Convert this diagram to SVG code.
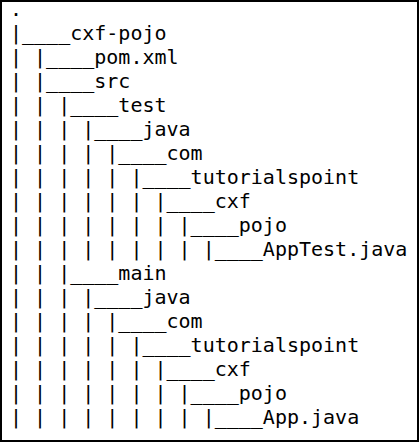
<svg xmlns="http://www.w3.org/2000/svg" width="419" height="442" viewBox="0 0 419 442" xml:space="preserve">
<style>
text { font-family: "DejaVu Sans Mono", "Liberation Mono", monospace; font-size: 20px; fill: #000; white-space: pre; }
</style>
<rect x="0" y="0" width="419" height="442" fill="#fff"/>
<rect x="1" y="1" width="417" height="440" fill="none" stroke="#000" stroke-width="2"/>
<g id="tree">
<text x="10" y="16">.</text>
<text x="10" y="40">|____cxf-pojo</text>
<text x="10" y="64">| |____pom.xml</text>
<text x="10" y="88">| |____src</text>
<text x="10" y="112">| | |____test</text>
<text x="10" y="136">| | | |____java</text>
<text x="10" y="160">| | | | |____com</text>
<text x="10" y="184">| | | | | |____tutorialspoint</text>
<text x="10" y="208">| | | | | | |____cxf</text>
<text x="10" y="232">| | | | | | | |____pojo</text>
<text x="10" y="256">| | | | | | | | |____AppTest.java</text>
<text x="10" y="280">| | |____main</text>
<text x="10" y="304">| | | |____java</text>
<text x="10" y="328">| | | | |____com</text>
<text x="10" y="352">| | | | | |____tutorialspoint</text>
<text x="10" y="376">| | | | | | |____cxf</text>
<text x="10" y="400">| | | | | | | |____pojo</text>
<text x="10" y="424">| | | | | | | | |____App.java</text>
</g>
</svg>
